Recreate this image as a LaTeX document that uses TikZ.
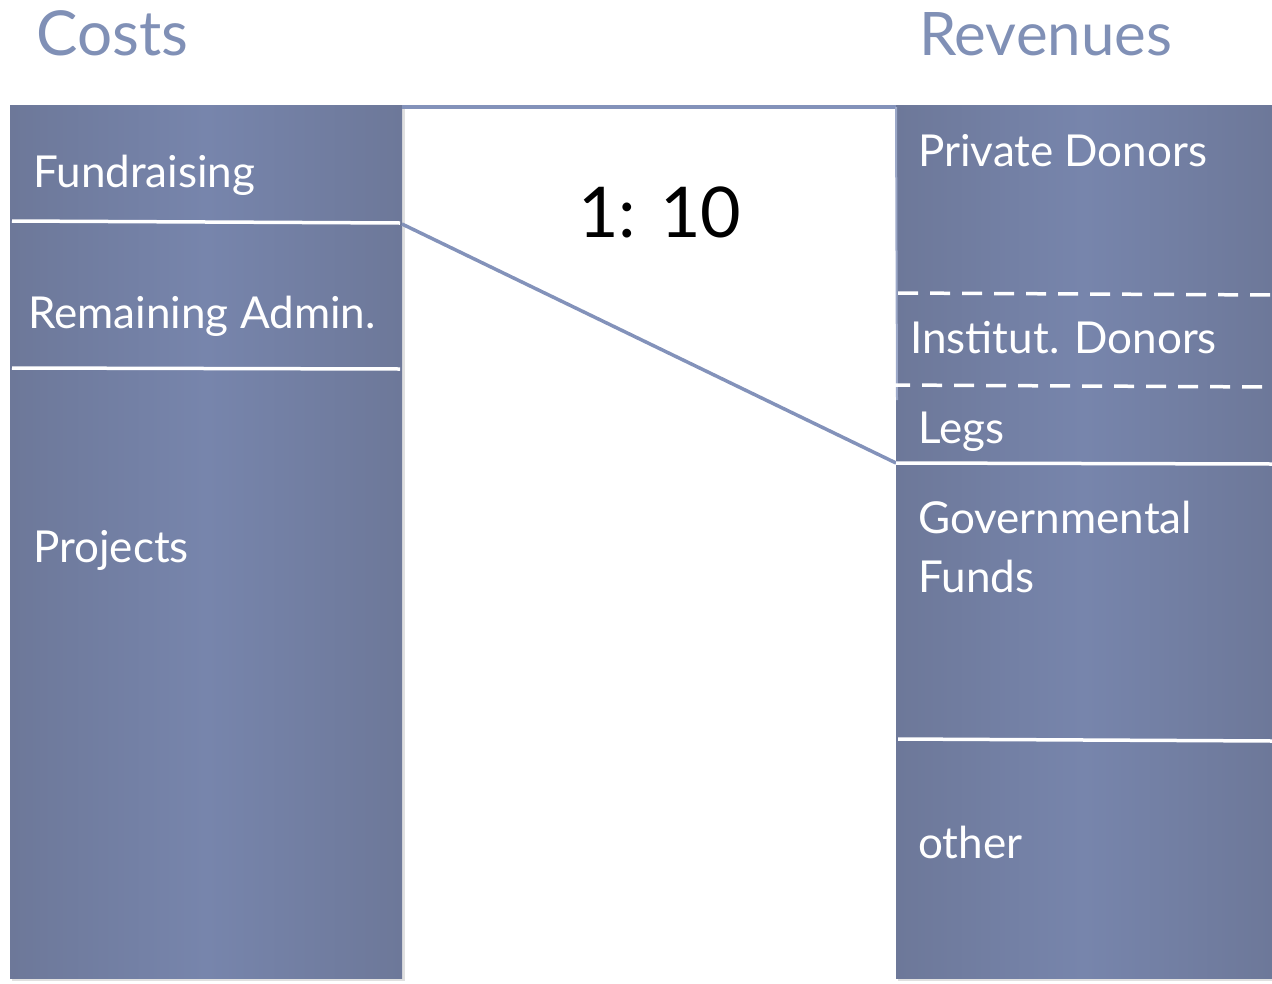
\documentclass[tikz,border=0pt]{standalone}
\usepackage{fontspec}
\setmainfont{Lato}
\usetikzlibrary{calc}
\definecolor{colmid}{HTML}{7785AC}
\definecolor{coledge}{HTML}{6D7899}
\definecolor{titlecol}{HTML}{8090B6}
\definecolor{linkcol}{HTML}{8392BA}
\tikzset{
  column/.style={draw=none, left color=coledge, right color=coledge, middle color=colmid, shading angle=90},
  sep/.style={draw=white, line width=3.5pt},
  dsep/.style={draw=white, line width=3.5pt, dash pattern=on 20pt off 12pt},
  link/.style={draw=linkcol, line width=3.5pt},
  label/.style={text=white, anchor=base west, inner sep=0pt, font=\fontsize{44}{48}\selectfont},
  title/.style={text=titlecol, anchor=base west, inner sep=0pt, font=\fontsize{62}{66}\selectfont},
}
\begin{document}
\begin{tikzpicture}[x=1pt,y=-1pt]
\useasboundingbox (0,0) rectangle (1272,983);
% shadows
\fill[black!12] (12,108) rectangle (405,981);
\fill[black!12] (898,108) rectangle (1272,981);
% columns
\path[column] (10,105) rectangle (402,978);
\coordinate (Ltop) at (402,107);
\coordinate (Lmid) at (402,224);
\coordinate (Rtop) at (896,107);
\coordinate (Rmid) at (896,463);
\coordinate (Rside) at (897,400);
\draw[link] (Ltop) -- (Rtop);
\path[column] (896,105) rectangle (1272,978);
\draw[linkcol!80!white, line width=2pt] (Rtop) -- (Rside);
\draw[link] (Lmid) -- (Rmid);
% separators
\coordinate (a1) at (12,221); \coordinate (a2) at (400,223);
\coordinate (b1) at (12,368); \coordinate (b2) at (400,369);
\draw[sep] (a1) -- (a2);
\draw[sep] (b1) -- (b2);
\coordinate (c1) at (898,293); \coordinate (c2) at (1272,295);
\coordinate (d1) at (890,385); \coordinate (d2) at (1272,387);
\coordinate (e1) at (896,463); \coordinate (e2) at (1272,464);
\coordinate (f1) at (898,739); \coordinate (f2) at (1272,741);
\draw[dsep] (c1) -- (c2);
\draw[dsep] (d1) -- (d2);
\draw[sep] (e1) -- (e2);
\draw[sep] (f1) -- (f2);
% titles
\node[title] (costs) at (36,55) {Costs};
\node[title, font=\fontsize{60}{64}\selectfont] (rev) at (919,55) {Revenues};
% labels
\node[label] (fund) at (33,187) {Fundraising};
\node[label] (adm) at (28,328) {Remaining Admin.};
\node[label] (proj) at (33,562) {Projects};
\node[label] (priv) at (918,166) {Private Donors};
\node[label] (inst) at (910,353) {Institut. Donors};
\node[label] (legs) at (918,443) {Legs};
\node[label] (gov) at (918,533) {Governmental};
\node[label] (funds) at (918,592) {Funds};
\node[label] (oth) at (918,858) {other};
\node[anchor=base west, inner sep=0pt, font=\fontsize{70}{74}\selectfont] (ratio) at (578,237) {1: 10};
\end{tikzpicture}
\end{document}
